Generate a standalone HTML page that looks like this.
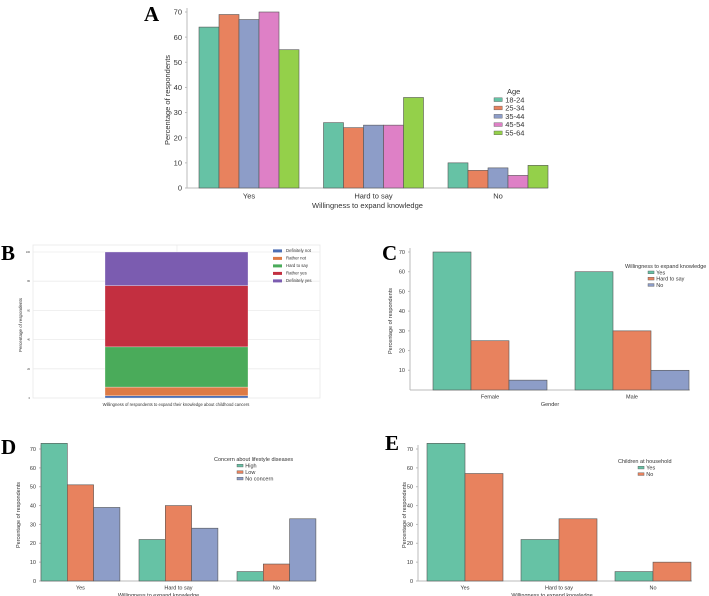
<!DOCTYPE html>
<html><head><meta charset="utf-8">
<style>
html,body{margin:0;padding:0;background:#fff;}
svg{display:block;font-family:"Liberation Sans",sans-serif;}
.t{fill:#333;font-size:7px;}
.L{font-family:"Liberation Serif",serif;font-weight:bold;font-size:21px;fill:#000;}
</style></head>
<body>
<svg id="s" width="709" height="596" viewBox="0 0 709 596">
<text class="L" x="144" y="21">A</text>
<text class="L" x="1" y="260">B</text>
<text class="L" x="382" y="260">C</text>
<text class="L" x="1" y="454">D</text>
<text class="L" x="385" y="450">E</text>
</svg>
<script>
// Panel A data
const aCats=["Yes","Hard to say","No"];
const aSeries=["18-24","25-34","35-44","45-54","55-64"];
const a1824=[64,26,10];
const a2534=[69,24,7];
const a3544=[67,25,8];
const a4554=[70,25,5];
const a5564=[55,36,9];
const aTicks=[0,10,20,30,40,50,60,70];
// Panel B data
const bSeries=["Definitely not","Rather not","Hard to say","Rather yes","Definitely yes"];
const bValues=[1.5,6,27.5,42,23];
const bTicks=[0,20,40,60,80,100];
// Panel C data
const cCats=["Female","Male"];
const cSeries=["Yes","Hard to say","No"];
const cYes=[70,60];
const cHard=[25,30];
const cNo=[5,10];
const cTicks=[10,20,30,40,50,60,70];
// Panel D data
const dCats=["Yes","Hard to say","No"];
const dSeries=["High","Low","No concern"];
const dHigh=[73,22,5];
const dLow=[51,40,9];
const dNone=[39,28,33];
const dTicks=[0,10,20,30,40,50,60,70];
// Panel E data
const eCats=["Yes","Hard to say","No"];
const eSeries=["Yes","No"];
const eYes=[73,22,5];
const eNo=[57,33,10];
const eTicks=[0,10,20,30,40,50,60,70];

const NS="http://www.w3.org/2000/svg";
const svg=document.getElementById('s');
const COL=["#66c2a5","#e8825e","#8d9dc8","#de80c6","#94d04a"];
function mk(tag,attrs,parent){const e=document.createElementNS(NS,tag);for(const k in attrs)e.setAttribute(k,attrs[k]);(parent||svg).appendChild(e);return e;}
function txt(x,y,s,size,anchor,parent,rot){const e=mk('text',{x:x,y:y,'font-size':size,'text-anchor':anchor||'middle',fill:'#333'},parent);if(rot)e.setAttribute('transform','rotate(-90 '+x+' '+y+')');e.textContent=s;return e;}

function grouped(o){
  const g=mk('g',{});
  
  
  const y=v=>o.y0-(v/o.ymax)*(o.y0-o.ytop);
  // axes
  const ax=mk('line',{x1:o.ax,y1:o.ytop-4,x2:o.ax,y2:o.y0,stroke:'#bbb','stroke-width':1},g);
  
  
  const bx=mk('line',{x1:o.ax,y1:o.y0,x2:o.axEnd,y2:o.y0,stroke:'#bbb','stroke-width':1},g);
  
  
  o.ticks.forEach(t=>{
    const tl=txt(o.ax-5,y(t)+o.fs*0.35,String(t),o.fs,'end',g);
    
    
    mk('line',{x1:o.ax-2,y1:y(t),x2:o.ax,y2:y(t),stroke:'#bbb'},g);
  });
  const n=o.series.length;
  o.cats.forEach((c,i)=>{
    const gx=o.g0+i*o.gstep;
    o.series.forEach((arr,j)=>{
      const v=arr[i];
      const r=mk('rect',{x:gx+j*o.bw,y:y(v),width:o.bw,height:y(0)-y(v),fill:COL[j],stroke:'#555','stroke-width':0.6},g);
      
      
    });
    const cl=txt(gx+n*o.bw/2,o.y0+o.fs+3,c,o.fs,'middle',g);
    
    
  });
  const xt=txt((o.ax+o.axEnd)/2+o.xtOff,o.y0+2*o.fs+5,o.xtitle,o.fs,'middle',g);
  
  
  const yt=txt(o.ytx,(o.y0+o.ytop)/2,'Percentage of respondents',o.fs,'middle',g,true);
  
  
  // legend
  const lt=txt(o.lx,o.ly,o.ltitle,o.fs,o.ltAnchor||'start',g);
  
  
  o.snames.forEach((s,j)=>{
    const yy=o.ly+(j+1)*o.lstep;
    const sw=mk('rect',{x:o.lx2,y:yy-o.fs*0.6,width:o.fs*1.1,height:o.fs*0.5,fill:COL[j],stroke:'#555','stroke-width':0.4},g);
    
    
    const le=txt(o.lx2+o.fs*1.5,yy,s,o.fs,'start',g);
    
    
  });
}

grouped({name:'panel-a-chart',cats:aCats,series:[a1824,a2534,a3544,a4554,a5564],snames:aSeries,ticks:aTicks,
 ymax:70,y0:188,ytop:12,ax:187,axEnd:548,g0:199,gstep:124.5,bw:20,fs:7.5,xtitle:'Willingness to expand knowledge',xtOff:0,
 ytx:170,lx:507,ly:94,ltitle:'Age',lx2:494,lstep:8.3});
grouped({name:'panel-c-chart',cats:cCats,series:[cYes,cHard,cNo],snames:cSeries,ticks:cTicks,
 ymax:70,y0:390,ytop:252,ax:410,axEnd:690,g0:433,gstep:142,bw:38,fs:5.5,xtitle:'Gender',xtOff:0,
 ytx:409-17,lx:625,ly:268,ltitle:'Willingness to expand knowledge',lx2:648,lstep:6.3});
grouped({name:'panel-d-chart',cats:dCats,series:[dHigh,dLow,dNone],snames:dSeries,ticks:dTicks,
 ymax:70,y0:581,ytop:449,ax:41,axEnd:316,g0:41,gstep:98,bw:26.3,fs:5.5,xtitle:'Willingness to expand knowledge',xtOff:-20,
 ytx:20,lx:214,ly:461,ltitle:'Concern about lifestyle diseases',lx2:237,lstep:6.5});
grouped({name:'panel-e-chart',cats:eCats,series:[eYes,eNo],snames:eSeries,ticks:eTicks,
 ymax:70,y0:581,ytop:449,ax:418,axEnd:692,g0:427,gstep:94,bw:38,fs:5.5,xtitle:'Willingness to expand knowledge',xtOff:-3,
 ytx:406,lx:618,ly:463,ltitle:'Children at household',lx2:638,lstep:6.5});

// Panel B stacked
(function(){
  const BC=["#4c6fb5","#dd7a45","#4aab5a","#c32f40","#7b5cb0"];
  const g=mk('g',{});
  
  
  const y0=398,ytop=252;
  const y=v=>y0-(v/100)*(y0-ytop);
  const fr=mk('rect',{x:33,y:245,width:287,height:153,fill:'#fff',stroke:'#e8e8e8','stroke-width':0.8},g);
  
  
  bTicks.forEach(t=>{
    const gl=mk('line',{x1:33,y1:y(t),x2:320,y2:y(t),stroke:'#ececec','stroke-width':0.8},g);
    
    
    const tl=txt(30,y(t)+1,String(t),2.5,'end',g);
    
    
  });
  mk('line',{x1:177,y1:245,x2:177,y2:398,stroke:'#ececec','stroke-width':0.8},g);
  let cum=0;
  bValues.forEach((v,i)=>{
    const r=mk('rect',{x:105,y:y(cum+v),width:143,height:y(cum)-y(cum+v),fill:BC[i],stroke:'#fff','stroke-width':0.3},g);
    
    
    cum+=v;
  });
  const yt=txt(22,(y0+ytop)/2,'Percentage of respondents',4.5,'middle',g,true);
  
  
  const xt=txt(176,406,'Willingness of respondents to expand their knowledge about childhood cancers',4.2,'middle',g);
  
  
  bSeries.forEach((s,i)=>{
    const yy=252+i*7.5;
    const sw=mk('rect',{x:273,y:yy-2.6,width:9,height:3,fill:BC[i]},g);
    
    
    const le=txt(286,yy,s,4.3,'start',g);
    
    
  });
})();
</script>
</body></html>
